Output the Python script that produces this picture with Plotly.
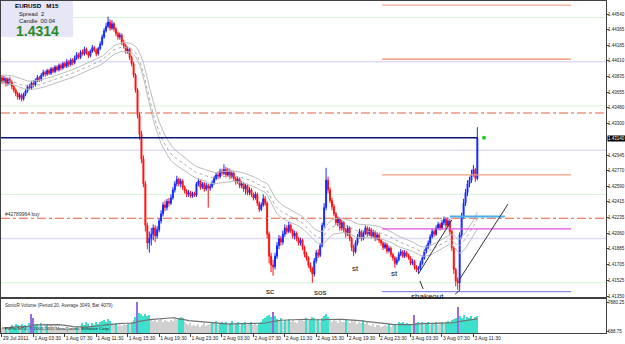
import plotly.graph_objects as go
import pandas as pd

# ---------------- data ----------------
first_open = 1.4382
close = [
 1.4378,1.4381,1.4375,1.4380,1.4377,1.4372,
 1.4368,1.4364,1.4360,1.4362,1.4358,1.4363,1.4367,
 1.4372,1.4370,1.4376,1.4374,1.4379,
 1.4382,1.4380,1.4385,1.4388,1.4386,1.4390,1.4387,1.4392,1.4389,1.4394,1.4391,
 1.4396,1.4393,1.4398,1.4395,1.4400,1.4397,1.4402,1.4399,
 1.4404,1.4408,1.4405,1.4411,1.4409,1.4414,1.4410,
 1.4407,1.4412,1.4416,1.4413,1.4409,1.4415,
 1.4420,1.4428,1.4435,1.4440,
 1.4445,1.4438,1.4443,1.4437,
 1.4432,1.4428,1.4430,1.4422,
 1.4418,1.4412,1.4414,1.4405,1.4398,
 1.4385,1.4368,1.4340,
 1.4318,1.4290,1.4262,
 1.4215,1.4195,1.4200,
 1.4205,1.4212,1.4203,1.4210,1.4220,1.4228,
 1.4238,1.4235,1.4242,1.4240,1.4246,
 1.4255,1.4262,1.4267,1.4262,
 1.4265,1.4258,1.4254,1.4250,1.4252,
 1.4248,1.4251,1.4249,1.4262,
 1.4265,1.4258,1.4262,1.4256,1.4260,
 1.4257,1.4259,1.4263,
 1.4268,1.4272,1.4270,1.4276,1.4274,
 1.4278,1.4272,1.4276,1.4270,1.4274,1.4268,
 1.4264,1.4267,1.4260,1.4262,
 1.4256,1.4260,1.4252,
 1.4255,1.4250,1.4246,1.4250,
 1.4240,1.4233,1.4238,
 1.4245,1.4240,
 1.4205,1.4180,1.4170,1.4168,
 1.4180,1.4192,1.4200,1.4196,1.4205,
 1.4212,1.4208,1.4215,1.4209,1.4203,
 1.4206,1.4200,1.4195,1.4198,
 1.4190,1.4182,1.4178,1.4170,1.4166,
 1.4160,
 1.4175,1.4184,1.4181,1.4192,
 1.4215,1.4235,
 1.4266,
 1.4255,1.4243,1.4236,
 1.4228,1.4218,1.4222,1.4212,
 1.4218,1.4210,1.4205,1.4212,
 1.4200,1.4190,1.4185,1.4195,
 1.4202,1.4208,1.4200,1.4206,1.4212,1.4205,
 1.4210,1.4203,1.4207,1.4200,1.4204,1.4198,
 1.4195,1.4190,1.4193,1.4186,1.4189,
 1.4182,1.4178,1.4172,1.4176,
 1.4182,1.4185,1.4180,1.4184,1.4181,
 1.4178,1.4172,1.4174,1.4168,1.4165,
 1.4166,
 1.4172,1.4178,1.4185,1.4190,1.4195,
 1.4202,1.4208,1.4205,1.4212,1.4216,
 1.4212,1.4218,1.4222,1.4215,
 1.4220,1.4208,
 1.4190,1.4165,
 1.4152,1.4150,
 1.4204,
 1.4225,1.4240,
 1.4252,1.4262,
 1.4266,1.4272,1.4278,
 1.4268,
 1.4314,
]
high = [
 1.4385,1.4384,1.4383,1.4382,1.4383,1.4379,
 1.4374,1.4370,1.4366,1.4365,1.4364,1.4365,1.4369,
 1.4374,1.4375,1.4378,1.4379,1.4381,
 1.4385,1.4384,1.4387,1.4391,1.4390,1.4392,1.4392,1.4394,1.4394,1.4396,1.4396,
 1.4398,1.4398,1.4400,1.4400,1.4403,1.4402,1.4404,1.4404,
 1.4407,1.4411,1.4410,1.4413,1.4414,1.4417,1.4416,
 1.4412,1.4414,1.4419,1.4418,1.4415,1.4417,
 1.4423,1.4431,1.4438,1.4444,
 1.4451,1.4448,1.4447,1.4445,
 1.4439,1.4434,1.4433,1.4432,
 1.4425,1.4420,1.4417,1.4416,1.4407,
 1.4400,1.4387,1.4370,
 1.4343,1.4322,1.4294,
 1.4265,1.4218,1.4208,
 1.4212,1.4216,1.4215,1.4214,1.4223,1.4232,
 1.4241,1.4243,1.4245,1.4246,1.4250,
 1.4258,1.4265,1.4271,1.4269,
 1.4268,1.4267,1.4260,1.4256,1.4255,
 1.4254,1.4253,1.4253,1.4264,
 1.4268,1.4267,1.4264,1.4264,1.4263,
 1.4262,1.4262,1.4266,
 1.4271,1.4275,1.4276,1.4279,1.4279,
 1.4284,1.4281,1.4280,1.4279,1.4277,1.4276,
 1.4270,1.4270,1.4269,1.4265,
 1.4264,1.4262,1.4262,
 1.4258,1.4257,1.4252,1.4253,
 1.4252,1.4242,1.4241,
 1.4250,1.4248,
 1.4242,1.4208,1.4184,1.4176,
 1.4184,1.4196,1.4204,1.4203,1.4209,
 1.4216,1.4215,1.4219,1.4217,1.4211,
 1.4209,1.4208,1.4202,1.4201,
 1.4200,1.4192,1.4185,1.4180,1.4173,
 1.4168,
 1.4178,1.4187,1.4188,1.4195,
 1.4218,1.4240,
 1.4280,
 1.4270,1.4258,1.4246,
 1.4239,1.4230,1.4225,1.4224,
 1.4221,1.4220,1.4212,1.4215,
 1.4214,1.4202,1.4193,1.4198,
 1.4205,1.4211,1.4210,1.4209,1.4215,1.4214,
 1.4213,1.4212,1.4210,1.4209,1.4207,1.4206,
 1.4200,1.4197,1.4196,1.4195,1.4192,
 1.4191,1.4184,1.4180,1.4179,
 1.4185,1.4188,1.4187,1.4187,1.4186,
 1.4183,1.4180,1.4177,1.4176,1.4170,
 1.4169,
 1.4175,1.4181,1.4188,1.4193,1.4198,
 1.4205,1.4211,1.4210,1.4215,1.4219,
 1.4218,1.4221,1.4225,1.4224,
 1.4224,1.4222,
 1.4210,1.4192,
 1.4167,1.4156,
 1.4207,
 1.4229,1.4245,
 1.4256,1.4266,
 1.4270,1.4278,1.4283,
 1.4280,
 1.4326,
]
low = [
 1.4375,1.4376,1.4372,1.4373,1.4374,1.4369,
 1.4365,1.4361,1.4357,1.4357,1.4355,1.4356,1.4361,
 1.4365,1.4368,1.4368,1.4371,1.4372,
 1.4377,1.4377,1.4378,1.4383,1.4383,1.4384,1.4385,1.4385,1.4387,1.4387,1.4389,
 1.4389,1.4390,1.4391,1.4393,1.4393,1.4394,1.4395,1.4396,
 1.4397,1.4402,1.4403,1.4403,1.4407,1.4407,1.4408,
 1.4404,1.4405,1.4410,1.4411,1.4406,1.4407,
 1.4413,1.4418,1.4426,1.4433,
 1.4438,1.4435,1.4436,1.4434,
 1.4429,1.4425,1.4425,1.4419,
 1.4415,1.4409,1.4409,1.4402,1.4395,
 1.4382,1.4365,1.4336,
 1.4312,1.4285,1.4258,
 1.4208,1.4188,1.4184,
 1.4192,1.4198,1.4196,1.4200,1.4207,1.4217,
 1.4225,1.4231,1.4232,1.4236,1.4238,
 1.4244,1.4252,1.4259,1.4259,
 1.4258,1.4255,1.4251,1.4247,1.4247,
 1.4246,1.4246,1.4247,1.4247,
 1.4259,1.4255,1.4256,1.4253,1.4254,
 1.4235,1.4254,1.4257,
 1.4261,1.4266,1.4267,1.4268,1.4271,
 1.4272,1.4269,1.4270,1.4267,1.4268,1.4265,
 1.4261,1.4262,1.4257,1.4257,
 1.4253,1.4250,1.4249,
 1.4249,1.4247,1.4243,1.4244,
 1.4237,1.4230,1.4231,
 1.4236,1.4237,
 1.4200,1.4172,1.4162,1.4158,
 1.4165,1.4177,1.4188,1.4192,1.4193,
 1.4202,1.4205,1.4206,1.4206,1.4200,
 1.4199,1.4197,1.4192,1.4192,
 1.4187,1.4179,1.4175,1.4167,1.4162,
 1.4150,
 1.4157,1.4172,1.4178,1.4179,
 1.4190,1.4212,
 1.4232,
 1.4251,1.4240,1.4232,
 1.4225,1.4215,1.4214,1.4209,
 1.4209,1.4207,1.4201,1.4203,
 1.4197,1.4186,1.4180,1.4183,
 1.4192,1.4200,1.4197,1.4198,1.4204,1.4202,
 1.4203,1.4200,1.4201,1.4197,1.4198,1.4195,
 1.4192,1.4187,1.4188,1.4183,1.4184,
 1.4179,1.4175,1.4167,1.4170,
 1.4174,1.4180,1.4178,1.4178,1.4179,
 1.4176,1.4170,1.4170,1.4165,1.4162,
 1.4160,
 1.4164,1.4170,1.4176,1.4183,1.4188,
 1.4193,1.4200,1.4202,1.4203,1.4210,
 1.4209,1.4210,1.4215,1.4212,
 1.4213,1.4204,
 1.4186,1.4160,
 1.4146,1.4142,
 1.4142,
 1.4200,1.4222,
 1.4237,1.4248,
 1.4258,1.4263,1.4270,
 1.4264,
 1.4266,
]
volume = [
 1500,1300,1800,1400,1600,
 2300,1700,2400,2100,1500,2500,1900,2200,1600,2600,
 4800,4000,2300,
 2400,2000,2600,1800,2300,2500,1700,2200,1600,2000,
 1300,1500,1200,1400,1100,1600,1300,1500,1200,1400,1700,1300,1500,
 2600,2200,2800,2400,1800,2700,2300,3000,2500,2900,3200,3400,2800,3600,3100,
 2400,2100,2600,2000,2300,1900,2500,2200,2700,2400,2900,
 3400,4200,
 7880,
 5200,4800,4500,5000,4300,4600,
 3400,3100,3600,2900,3300,3700,3000,3500,3200,2800,3400,3100,3600,3300,3900,
 4100,3900,2800,
 2400,2100,2600,1900,2300,2000,2500,1800,2200,2600,1900,2100,2400,
 2900,2600,3100,2200,2700,3000,2400,2800,2100,2600,3200,2300,2500,2900,2000,2700,2400,3000,2200,2600,2800,2100,2500,2300,2700,
 3000,3600,3900,4400,4700,4200,5400,4500,3700,
 3300,3800,2900,3500,3100,3600,2800,3400,3000,2700,3300,3500,
 3600,3200,3900,3400,3700,4100,3800,3300,3600,3000,
 3900,4300,4800,4100,
 3300,2900,3500,3100,2700,3400,3000,2800,3600,3200,2600,3300,2900,3100,2500,3000,2700,3200,2400,2800,
 2200,1900,2400,1800,2100,2300,1700,2000,2200,1900,2500,1800,2100,2300,2000,
 2900,2600,3000,2400,2700,
 2300,
 2500,2200,4600,2600,2900,
 2400,2800,2200,2600,3000,2300,2700,2500,2900,2100,2600,2800,2400,
 2900,3100,2800,3300,3600,4000,
 6700,
 4300,3900,4600,3500,4200,3800,4500,3600,4100,4400,
]
climax_bars = [15, 16, 69, 138, 210, 232]

time_label_bars = [0, 16, 32, 48, 64, 80, 96, 112, 128, 144, 160, 176, 192, 208, 224, 240]
time_labels = ["29 Jul 2011", "1 Aug 03:30", "1 Aug 07:30", "1 Aug 11:30", "1 Aug 15:30",
               "1 Aug 19:30", "1 Aug 23:30", "2 Aug 03:30", "2 Aug 07:30", "2 Aug 11:30",
               "2 Aug 15:30", "2 Aug 19:30", "2 Aug 23:30", "3 Aug 03:30", "3 Aug 07:30",
               "3 Aug 11:30"]
# the 1.43120 tick is hidden under the current-price box in the reference
price_tick_labels = ["1.41350", "1.41525", "1.41705", "1.41885", "1.42060", "1.42235",
                     "1.42415", "1.42590", "1.42770", "1.42945", "1.43300",
                     "1.43480", "1.43655", "1.43835", "1.44010", "1.44185", "1.44365",
                     "1.44540"]
volume_tick_labels = ["688.75", "7880.25"]

green_levels = [1.4150, 1.4250, 1.4350, 1.4450]
lavender_levels = [1.4200, 1.4300, 1.4400]
order_levels = [1.4342, 1.4223]
bid_price = 1.4314
right_segments = [(1.4464, "#f5a88c"), (1.4403, "#f08868"), (1.4272, "#f0a080"),
                  (1.4211, "#e050e0"), (1.4140, "#8c8ce6")]
right_seg_bars = (193.5, 289.7)
cyan_level = (228, 256, 1.4225)
trend_lines = [((212, 1.4160), (229, 1.4221)), ((232.7, 1.4153), (257.6, 1.4239)),
               ((212.8, 1.4152), (214.4, 1.4143)), ((230.7, 1.4137), (233.2, 1.4142))]
wyckoff_labels = [("sc", 136.5, 1.4140), ("sos", 162, 1.4139), ("st", 180, 1.4166),
                  ("st", 200, 1.4161), ("shakeout", 216.5, 1.4135)]

# ---------------- figure ----------------
x = list(range(len(close)))
open_ = [first_open] + close[:-1]
W, H = 625, 344
ML, MR, MT, MB = 1, 19, 1, 11
PW, PH = W - ML - MR, H - MT - MB
def px_x(px):
    return (px - ML) / PW
def px_y(py):
    return (H - MB - py) / PH

XR = [-0.5, 307.5]
YR = [1.41339, 1.44687]
VR = [193, 8624]

fig = go.Figure()

# dragon EMA34 lines
s_close = pd.Series(close)
ema_c = s_close.ewm(span=34, adjust=False).mean()
ema_h = pd.Series(high).ewm(span=34, adjust=False).mean()
ema_l = pd.Series(low).ewm(span=34, adjust=False).mean()
for ser, dash, col in [(ema_h, "solid", "#bcbcbc"), (ema_l, "solid", "#bcbcbc"), (ema_c, "dot", "#acacac")]:
    fig.add_trace(go.Scatter(x=x, y=ser, mode="lines", line=dict(color=col, width=1, dash=dash),
                             hoverinfo="skip", showlegend=False, xaxis="x", yaxis="y"))

fig.add_trace(go.Candlestick(
    x=x, open=open_, high=high, low=low, close=close,
    increasing=dict(line=dict(color="#1428ff", width=1), fillcolor="#1428ff"),
    decreasing=dict(line=dict(color="#ff1010", width=1), fillcolor="#ff1010"),
    whiskerwidth=0, showlegend=False, xaxis="x", yaxis="y"))

# bid marker
fig.add_trace(go.Scatter(x=[245.4], y=[bid_price], mode="markers",
                         marker=dict(color="#20d020", size=4), showlegend=False,
                         xaxis="x", yaxis="y"))

# volume
vol_avg = pd.Series(volume).rolling(20, min_periods=1).mean()
vcolors = []
for i, v in enumerate(volume):
    if i in climax_bars:
        vcolors.append("#9a6ce0")
    elif v > vol_avg[i]:
        vcolors.append("#3ee0cc")
    else:
        vcolors.append("#d0d0d0")
fig.add_trace(go.Bar(x=list(range(len(volume))), y=volume, marker=dict(color=vcolors, line=dict(width=0)),
                     width=0.6, showlegend=False, xaxis="x2", yaxis="y2"))
fig.add_trace(go.Scatter(x=list(range(len(volume))), y=vol_avg, mode="lines",
                         line=dict(color="#707070", width=1.2), showlegend=False,
                         xaxis="x2", yaxis="y2"))

shapes = []
for lv in green_levels:
    shapes.append(dict(type="line", xref="x", yref="y", x0=XR[0], x1=XR[1], y0=lv, y1=lv,
                       line=dict(color="#d4f4d4", width=1), layer="below"))
for lv in lavender_levels:
    shapes.append(dict(type="line", xref="x", yref="y", x0=XR[0], x1=XR[1], y0=lv, y1=lv,
                       line=dict(color="#dcdcf8", width=1.5), layer="below"))
for lv in order_levels:
    shapes.append(dict(type="line", xref="x", yref="y", x0=XR[0], x1=XR[1], y0=lv, y1=lv,
                       line=dict(color="#e8603c", width=1.2, dash="dashdot")))
for lv, col in right_segments:
    shapes.append(dict(type="line", xref="x", yref="y", x0=right_seg_bars[0], x1=right_seg_bars[1],
                       y0=lv, y1=lv, line=dict(color=col, width=1.2)))
shapes.append(dict(type="line", xref="x", yref="y", x0=XR[0], x1=242, y0=bid_price, y1=bid_price,
                   line=dict(color="#0a1478", width=1.5)))
shapes.append(dict(type="line", xref="x", yref="y", x0=cyan_level[0], x1=cyan_level[1],
                   y0=cyan_level[2], y1=cyan_level[2], line=dict(color="#48b0e8", width=2)))
for (a, b) in trend_lines:
    shapes.append(dict(type="line", xref="x", yref="y", x0=a[0], y0=a[1], x1=b[0], y1=b[1],
                       line=dict(color="#303030", width=1)))
# info box
shapes.append(dict(type="rect", xref="paper", yref="paper", x0=px_x(1), x1=px_x(73),
                   y0=px_y(37), y1=px_y(1), fillcolor="#e6e6f6", line=dict(width=0), layer="above"))

annotations = []
for txt, xi, yv in wyckoff_labels:
    annotations.append(dict(x=xi, y=yv, xref="x", yref="y", text=txt, showarrow=False,
                            font=dict(family="Liberation Sans", size=8, color="#101010")))
annotations.append(dict(x=px_x(3), y=1.4223, xref="paper", yref="y", text="#42789964 buy",
                        xanchor="left", yanchor="bottom", showarrow=False, yshift=-1,
                        font=dict(family="Liberation Sans", size=5, color="#303030")))
info = [("<b>EURUSD   M15</b>", 13, 6, 6.2, "#000000"),
        ("Spread  2", 17, 13.8, 5.8, "#202020"),
        ("Candle  00:04", 17, 20.8, 5.8, "#202020"),
        ("<b>1.4314</b>", 14, 30.5, 14, "#2a8a2a")]
for txt, px, py, sz, col in info:
    annotations.append(dict(x=px_x(px), y=px_y(py), xref="paper", yref="paper", text=txt,
                            xanchor="left", yanchor="middle", showarrow=False,
                            font=dict(family="Liberation Sans", size=sz, color=col)))
annotations.append(dict(x=px_x(607), y=px_y(138.5), xref="paper", yref="paper", text="1.43140",
                        xanchor="left", yanchor="middle", showarrow=False, bgcolor="#000000",
                        borderpad=0, font=dict(family="Liberation Sans", size=4.5, color="#ffffff")))
annotations.append(dict(x=px_x(3), y=px_y(305), xref="paper", yref="paper",
                        text="SonicR Volume (Period 20, Average 3049, Bar 4079)",
                        xanchor="left", yanchor="middle", showarrow=False,
                        font=dict(family="Liberation Sans", size=4.6, color="#303030")))
annotations.append(dict(x=px_x(3), y=px_y(328.5), xref="paper", yref="paper",
                        text="FxPro MT4, © 2001-2011 MetaQuotes Software Corp.",
                        xanchor="left", yanchor="middle", showarrow=False,
                        font=dict(family="Liberation Sans", size=4.4, color="#202020")))

axis_font = dict(family="Liberation Sans", size=5, color="#202020")
yaxis_font = dict(family="Liberation Sans", size=4.5, color="#202020")
main_bottom = px_y(297)
vol_top = px_y(299)
fig.update_layout(
    width=W, height=H, margin=dict(l=ML, r=MR, t=MT, b=MB, autoexpand=False),
    paper_bgcolor="white", plot_bgcolor="white", bargap=0,
    shapes=shapes, annotations=annotations,
    xaxis=dict(domain=[0, 1], anchor="y", range=XR, showticklabels=False, showgrid=False,
               zeroline=False, showline=True, mirror=True, linecolor="#404040", linewidth=1,
               rangeslider=dict(visible=False), ticks="", automargin=False),
    yaxis=dict(domain=[main_bottom, 1], anchor="x", side="right", range=YR, showgrid=False,
               zeroline=False, showline=True, mirror=True, linecolor="#404040", linewidth=1,
               tickvals=[float(t) for t in price_tick_labels], ticktext=price_tick_labels,
               ticks="outside", ticklen=2, tickcolor="#404040", tickfont=yaxis_font,
               ticklabelstandoff=-2, automargin=False),
    xaxis2=dict(domain=[0, 1], anchor="y2", range=XR, showgrid=False, zeroline=False,
                showline=True, mirror=True, linecolor="#404040", linewidth=1,
                tickvals=time_label_bars, ticktext=time_labels, ticks="outside", ticklen=3,
                tickcolor="#404040", ticklabelposition="outside right", tickfont=axis_font,
                tickangle=0, automargin=False),
    yaxis2=dict(domain=[0, vol_top], anchor="x2", side="right", range=VR, showgrid=False,
                zeroline=False, showline=True, mirror=True, linecolor="#404040", linewidth=1,
                tickvals=[float(t) for t in volume_tick_labels], ticktext=volume_tick_labels,
                ticks="outside", ticklen=2, tickcolor="#404040", tickfont=yaxis_font,
                ticklabelstandoff=-2, automargin=False),
)

fig.write_html("out.html")
